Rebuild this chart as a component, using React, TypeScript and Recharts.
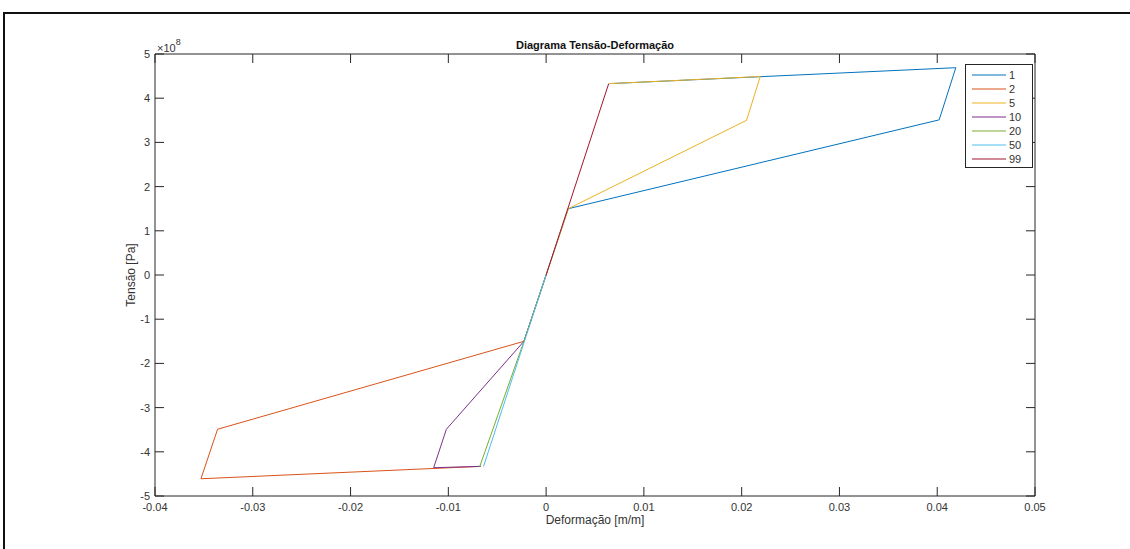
import React from 'react';
import { LineChart, Line, XAxis, YAxis, Legend } from 'recharts';

// strain [m/m] and stress [Pa] per load case
const seriesNames = ['1', '2', '5', '10', '20', '50', '99'];
const seriesColors = ['#0072BD', '#D95319', '#EDB120', '#7E2F8E', '#77AC30', '#4DBEEE', '#A2142F'];

const strain1 = [0, 0.00227, 0.0402, 0.0419, 0.0065];
const stress1 = [0, 1.5e8, 3.51e8, 4.69e8, 4.33e8];
const strain2 = [0, -0.00227, -0.0336, -0.0353, -0.0067];
const stress2 = [0, -1.5e8, -3.49e8, -4.61e8, -4.33e8];
const strain5 = [0, 0.00227, 0.0205, 0.0219, 0.0065];
const stress5 = [0, 1.5e8, 3.5e8, 4.49e8, 4.33e8];
const strain10 = [0, -0.00227, -0.0102, -0.0115, -0.0067];
const stress10 = [0, -1.5e8, -3.49e8, -4.36e8, -4.33e8];
const strain20 = [0, -0.00227, -0.0068];
const stress20 = [0, -1.5e8, -4.34e8];
const strain50 = [0, -0.0064];
const stress50 = [0, -4.33e8];
const strain99 = [0, 0.0064];
const stress99 = [0, 4.33e8];

const xTicks = [-0.04, -0.03, -0.02, -0.01, 0, 0.01, 0.02, 0.03, 0.04, 0.05];
const xTickLabels = ['-0.04', '-0.03', '-0.02', '-0.01', '0', '0.01', '0.02', '0.03', '0.04', '0.05'];
const yTicks = [-5e8, -4e8, -3e8, -2e8, -1e8, 0, 1e8, 2e8, 3e8, 4e8, 5e8];
const yTickLabels = ['-5', '-4', '-3', '-2', '-1', '0', '1', '2', '3', '4', '5'];

const strains = [strain1, strain2, strain5, strain10, strain20, strain50, strain99];
const stresses = [stress1, stress2, stress5, stress10, stress20, stress50, stress99];

const series = seriesNames.map((name, i) => ({
  name,
  color: seriesColors[i],
  data: strains[i].map((x, j) => ({ x, y: stresses[i][j] })),
}));

const FONT = '"Liberation Sans", Arial, sans-serif';
const AXIS = '#262626';
const TICK = 9;
const X_DOMAIN: [number, number] = [-0.04, 0.05];
const Y_DOMAIN: [number, number] = [-5e8, 5e8];

const BottomTick = (props: any) => {
  const { x, y, payload, index } = props;
  return (
    <g>
      <line x1={x} x2={x} y1={y} y2={y - TICK} stroke={AXIS} />
      <text x={x} y={y + 15} textAnchor="middle" fontSize={11} fill="#333" fontFamily={FONT}>
        {xTickLabels[index] ?? payload.value}
      </text>
    </g>
  );
};

const TopTick = (props: any) => {
  const { x, y } = props;
  return <line x1={x} x2={x} y1={y} y2={y + TICK} stroke={AXIS} />;
};

const LeftTick = (props: any) => {
  const { x, y, payload, index } = props;
  return (
    <g>
      <line x1={x} x2={x + TICK} y1={y} y2={y} stroke={AXIS} />
      <text x={x - 5} y={y + 4} textAnchor="end" fontSize={11} fill="#333" fontFamily={FONT}>
        {yTickLabels[index] ?? payload.value}
      </text>
    </g>
  );
};

const RightTick = (props: any) => {
  const { x, y } = props;
  return <line x1={x} x2={x - TICK} y1={y} y2={y} stroke={AXIS} />;
};

const LegendBox = () => (
  <div style={{ border: `1px solid ${AXIS}`, background: '#fff', width: 66, height: 102 }}>
    <svg width={66} height={102}>
      {series.map((s, i) => (
        <g key={s.name}>
          <line x1={6} x2={40} y1={10 + 14 * i} y2={10 + 14 * i} stroke={s.color} />
          <text x={43} y={14 + 14 * i} fontSize={11} fill="#333" fontFamily={FONT}>
            {s.name}
          </text>
        </g>
      ))}
    </svg>
  </div>
);

export default function App() {
  const last = series.length - 1;
  return (
    <div style={{ position: 'absolute', left: 0, top: 0, width: 1130, height: 549, overflow: 'hidden', background: '#fff', fontFamily: FONT }}>
      <div style={{ position: 'absolute', left: 3, top: 12, width: 1140, height: 560, borderTop: '2px solid #111', borderLeft: '2px solid #111' }} />
      <LineChart width={1130} height={549} data={series[0].data} margin={{ top: 53, right: 94, bottom: 52, left: 154 }}>
        <XAxis dataKey="x" type="number" domain={X_DOMAIN} allowDataOverflow ticks={xTicks} height={1} tickSize={0} tickMargin={0} tickLine={false} tick={<BottomTick />} stroke={AXIS} interval={0} />
        <XAxis xAxisId="top" dataKey="x" orientation="top" type="number" domain={X_DOMAIN} allowDataOverflow ticks={xTicks} height={1} tickSize={0} tickMargin={0} tickLine={false} tick={<TopTick />} stroke={AXIS} interval={0} />
        <YAxis type="number" domain={Y_DOMAIN} allowDataOverflow ticks={yTicks} width={1} tickSize={0} tickMargin={0} tickLine={false} tick={<LeftTick />} stroke={AXIS} interval={0} />
        <YAxis yAxisId="right" orientation="right" type="number" domain={Y_DOMAIN} allowDataOverflow ticks={yTicks} width={1} tickSize={0} tickMargin={0} tickLine={false} tick={<RightTick />} stroke={AXIS} interval={0} />
        <Legend layout="vertical" align="center" verticalAlign="middle" content={<LegendBox />} wrapperStyle={{ left: 965, top: 64, width: 68, height: 104 }} />
        {series.map((s, i) => (
          <Line
            key={s.name}
            data={s.data}
            dataKey="y"
            name={s.name}
            stroke={s.color}
            strokeWidth={1}
            dot={false}
            type="linear"
            isAnimationActive={false}
            xAxisId={i === last ? 'top' : 0}
            yAxisId={i === last ? 'right' : 0}
          />
        ))}
      </LineChart>
      <div style={{ position: 'absolute', left: 0, width: 1190, top: 39, textAlign: 'center', fontSize: 11, fontWeight: 'bold', color: '#111' }}>
        Diagrama Tensão-Deformação
      </div>
      <div style={{ position: 'absolute', left: 157, top: 39, fontSize: 11, color: '#333' }}>
        ×10<sup style={{ fontSize: 9, position: 'relative', top: -2 }}>8</sup>
      </div>
      <div style={{ position: 'absolute', left: 0, width: 1190, top: 514, lineHeight: '12px', textAlign: 'center', fontSize: 12, color: '#333' }}>
        Deformação [m/m]
      </div>
      <div style={{ position: 'absolute', left: 131, top: 275, transform: 'translate(-50%, -50%) rotate(-90deg)', fontSize: 12, color: '#333', whiteSpace: 'nowrap' }}>
        Tensão [Pa]
      </div>
    </div>
  );
}
